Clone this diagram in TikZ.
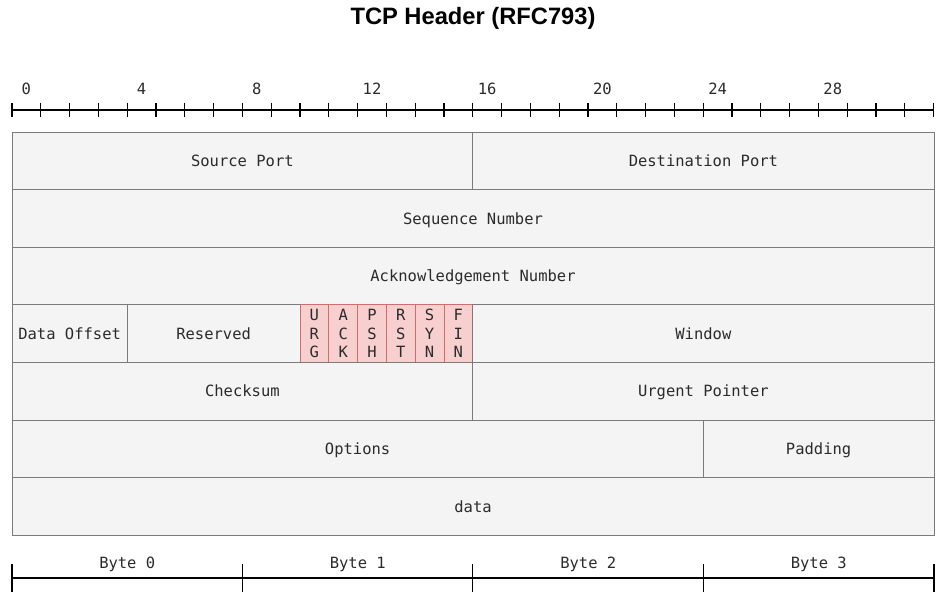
\documentclass[tikz,border=0pt]{standalone}
\usepackage{fontspec}
\setmainfont{DejaVu Sans Mono}
\newfontfamily\titlefont{Liberation Sans}
\definecolor{txt}{HTML}{2B2B2B}
\definecolor{fieldfill}{HTML}{F4F4F4}
\definecolor{fieldline}{HTML}{7A7A7A}
\definecolor{flagfill}{HTML}{F7CFCF}
\definecolor{flagline}{HTML}{CF6E6E}
\begin{document}
\begin{tikzpicture}[x=1pt,y=-1pt,
  every node/.style={text=txt,font=\fontsize{15.5}{18.5}\selectfont},
  field/.style={draw=fieldline,fill=fieldfill,line width=1pt,rectangle,inner sep=0pt,outer sep=0pt,minimum height=57.6pt,text height=11.5pt,text depth=0pt},
  flag/.style={draw=flagline,fill=flagfill,line width=1pt,rectangle,inner sep=0pt,outer sep=0pt,minimum height=57.6pt,minimum width=28.8pt,align=center},
  rulerline/.style={line width=1.3pt,draw=black},
  tick/.style={line width=1.3pt,draw=black}]
\useasboundingbox (0,0) rectangle (948,603);
\node[font=\titlefont\bfseries\fontsize{23.7}{28}\selectfont,text=black] (title) at (473,18) {TCP Header (RFC793)};
% bit ruler
\coordinate (r0) at (12,110);
\coordinate (r32) at (934,110);
\draw[rulerline] (r0) -- (r32);
\foreach \i in {0,...,32} \draw[tick] ({12+\i*28.8},103) -- ({12+\i*28.8},117);
\foreach \i in {0,4,...,28} \node (bit\i) at ({12+(\i+0.5)*28.8},89) {\i};
% row 0
\node[field,minimum width=460.8pt] (src) at (242.4,160.8) {Source Port};
\node[field,minimum width=461.2pt] (dst) at (703.4,160.8) {Destination Port};
% row 1
\node[field,minimum width=922pt] (seq) at (473,218.4) {Sequence Number};
% row 2
\node[field,minimum width=922pt] (ack) at (473,276) {Acknowledgement Number};
% row 3
\node[field,minimum width=115.2pt] (doff) at (69.6,333.6) {Data Offset};
\node[field,minimum width=172.8pt] (res) at (213.6,333.6) {Reserved};
\node[flag] (urg) at (314.4,333.6) {U\\R\\G};
\node[flag] (ackf) at (343.2,333.6) {A\\C\\K};
\node[flag] (psh) at (372,333.6) {P\\S\\H};
\node[flag] (rst) at (400.8,333.6) {R\\S\\T};
\node[flag] (syn) at (429.6,333.6) {S\\Y\\N};
\node[flag] (fin) at (458.4,333.6) {F\\I\\N};
\node[field,minimum width=461.2pt] (win) at (703.4,333.6) {Window};
% row 4
\node[field,minimum width=460.8pt] (chk) at (242.4,391.2) {Checksum};
\node[field,minimum width=461.2pt] (urgp) at (703.4,391.2) {Urgent Pointer};
% row 5
\node[field,minimum width=691.2pt] (opt) at (357.6,448.8) {Options};
\node[field,minimum width=230.8pt] (pad) at (818.6,448.8) {Padding};
% row 6
\node[field,minimum width=922pt] (data) at (473,506.4) {data};
% byte ruler
\coordinate (b0) at (12,578);
\coordinate (b4) at (934,578);
\draw[rulerline] (b0) -- (b4);
\foreach \x in {12,242.4,472.8,703.2,934} \draw[tick] (\x,564) -- (\x,592);
\foreach \k in {0,1,2,3} \node (byte\k) at ({12+(\k+0.5)*230.5},564.5) {Byte \k};
\end{tikzpicture}
\end{document}
